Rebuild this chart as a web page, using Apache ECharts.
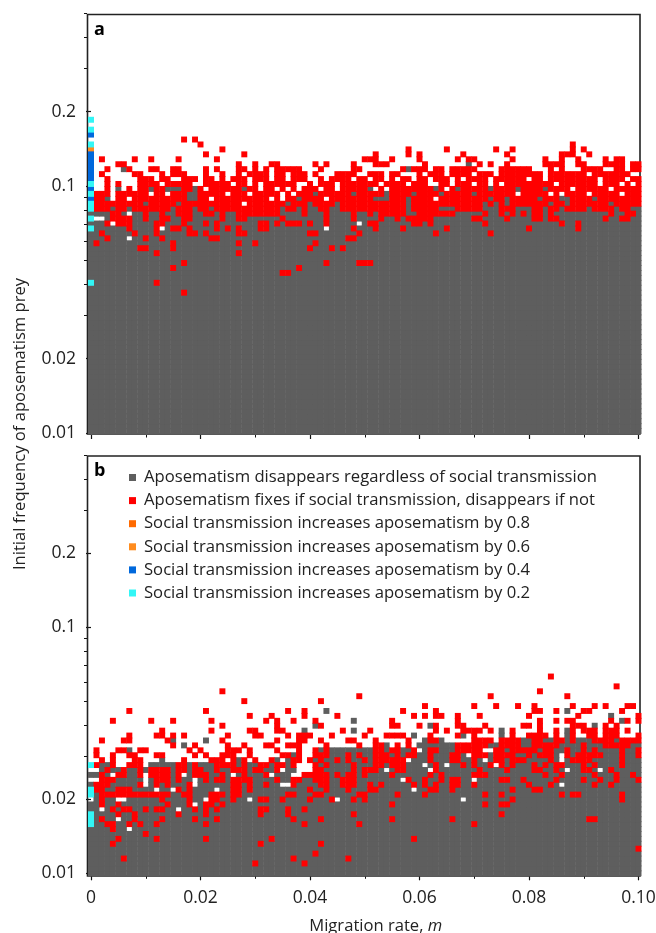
<!DOCTYPE html>
<html><head><meta charset="utf-8">
<style>html,body{margin:0;padding:0;background:#fff}#c{width:656px;height:933px}</style>
<script src="https://cdn.jsdelivr.net/npm/echarts@6/dist/echarts.min.js"></script>
</head><body><div id="c"></div>
<script>
const legendNames = [
  'Aposematism disappears regardless of social transmission',
  'Aposematism fixes if social transmission, disappears if not',
  'Social transmission increases aposematism by 0.8',
  'Social transmission increases aposematism by 0.6',
  'Social transmission increases aposematism by 0.4',
  'Social transmission increases aposematism by 0.2'
];
const legendColors = ['#5e5e5e','#ff0000','#ff6a00','#ff8c1e','#0068dc','#33f6f6'];
const xLabels = ['0','0.02','0.04','0.06','0.08','0.10'];
const yMajor = [0.01,0.02,0.1,0.2];
const yMinor = [0.03,0.04,0.05,0.06,0.07,0.08,0.09,0.3,0.4,0.5];

// Panel a: cell map, row 63 at the top down to row 29. g grey, r red, c cyan, b blue, o orange, . empty
const topRowA = 63;
const rowsA = [
"c.",
".",
"c.",
"b.",
".......... .......r.r .",
"c......... .......... r......... .......... .......... .......... .......... .......... ........r. .",
"o......... .......... ....r..... .......... .......... ........r. .....r.... ....r..r.. ........r. r.",
"b......... .......... .r......r. .......... .......... ..r.....r. r.......r. ......r... ......rrr. .r.",
"b.r.....r. .r....r... ...r...... .......... .......... rrr..r.... r......r.r r......r.. ...r..r..r ....r.rr.. .",
"b....rr... .......... .......r.. r..rr..... .r.r....r. ..rrr..... .r.......g .r.r..r... ...rrrr..r r...rrrr.r r",
"b..r..gr.. .rr..rr... .r.r...rr. r.r.rrrrr. ..r.....rr .......rgr rr.rr.rrrr r....rrrrr r...r.r... rrrr..rr.r r",
"b.r.....rr ...r.rrr.. .r..r..r.r rrr.rr.rrr .r...rrrr. .rrr.rr... r.rrr.rrrr .rrr.rrrrr rrr.rrrrrr r.rrrrrrr. .",
"b..r.....r rr.rr..rrr .rr.r.rrr. rrr.rr.rrr ..r.rrrr.r r.rr.r.rr. rr.rrr.r.r rrr.rrrrrr .rr.rrrrrr rrr.rrrr.r r",
"c..r.r...r rrr.rrrrr. .rrrrr.rr. r.rrrrrr.. r.rrr.rrrr rrr.rrrr.r rr..rr.rrr .rr.r.rrrr rrrrr.rrrr rrr.rrr.r. r",
"b..r.g.r.r rgrrgggrrg r.rrrrrrgr r.rr.r.r.r rr.rr.rrrr rg.r.rrrrr rrrgr.rgrr rrrgrrrrgr rrrgrrrr.r rrrrr.rrrr r",
"crrr.rrrrr r.rr.rrrgg rrrrr.rrr. rrrrr.r.rr rgrrrrrrgr rrrrgrrrrg rrrrgrrrrr grrrrrrr.r rrrr.r.rrr r.rrrrr.rr r",
"brrg.rr.rr rrrrrrrrgg rr.rrrrrrr rrr.r.rrgr rrr.rrrrrr rrgggrrrgr rrr.rrrrrr rrrgrrgrrr rrgrrrggrr rrgrrrrrrr r",
"crrrrrrrrr grrrrrgrrr rrrrrrrr.r rrrrrrgrrr grrrrgrrrr rrrrrrrrgr rrrrrrrrrr rrgrgrgrrr rrrrgrrgrr rrrrrgrrrr r",
"crrrgrrgrr rrrrrgrrrg rrgrrrrrrr rrrrrgrrgr ggrrggrrrr rrrrrrrrgr rrrrgggrrr rrgggrrrgg grrgrrgrrr rgrrrrgrrg g",
"ggggrrg.gg rggrggrrrg grrgrggrrr rrrrrggggr gggrggggrg grgrrrrrgg rrrrrrrggg ggrggrgrgr grrgrggggg gggggrggrr g",
"c..grrrrgg rggrrggrrg ggggrggrrg gggggrgggg gggrggggrg gggrggrgrr rrrggggggg rrggggrggg grrgrrgggg ggggrggrrg g",
"gggr.rrrgg ggrrgggrgg grgrgggggg grrgrgrrrg rggrggggg. grrggggggr rgrggggggg ggrggggggg ggggggrggr gggggggggg g",
"cggggggrgg ggr.grrgrg gggrgrgrgg grrggggggg ggg.ggggrg ggrggggrgg gggggrgggg gggggggggg rggggggggr gggggggggg g",
"ggrgggggrg ggrgggggrr grgggggrrg gggggggggg rrgggggggr gggggggggg gggrgggggg gggrgggggg g",
"gggrggg.gg rggrgggggg ggrrgggggg gggggggggg gggggggrrg g",
"grgggggggg gggggrgggg gggggggrgg rggggggggg grgggggggg g",
"gggggggggr rggggrgggg gggggggggg gggggggggg rgggrgrggg g",
"gggggggggg ggrggggggg gggggggrgg g",
"g",
"gggggggggg gggggggrgg gggggggggg gggggggggg gggrgggggr rrgggggggg g",
"gggggggggg gggggrgggg gggggggggg ggggggggrg g",
"gggggggggg gggggggggg gggggggggg gggggrrggg g",
"g",
"cggggggggg ggrggggggg g",
"g",
"gggggggggg gggggggrgg g"
];

// Panel b: grey top row per column, then listed exceptions. Each list: row, then columns.
const grayTopB = [
 21,22,22,22,21,21,21,21,21,20, 21,22,22,22,22,22,22,22,22,22,
 22,22,22,22,22,22,22,23,23,22, 22,22,22,22,23,23,24,24,21,20,
 20,24,25,24,25,25,25,25,25,25, 25,25,26,26,26,25,25,25,25,25,
 26,27,27,27,27,26,26,26,26,26, 27,26,27,26,26,28,27,27,27,27,
 28,28,28,27,27,27,27,28,27,27, 27,27,26,27,27,27,27,27,27,27, 28
];
const grayExtraB = [[33,43,87],[32,95],[31,48,97],[30,41,62,92],[29,39,48,75,87],[28,59,68],[27,15,21],[26,17],[25,7],[23,13]];
const whiteB = [[25,60,72,73],[24,33,34,69,86],[23,35,58,72,86],[22,38,39,40,61,65,74],[21,0,1,35,38,39,40,54,62,87,93],
 [20,4,10,17,26,33,37,38],[19,0,1,10,19,57,70],[18,10,19,35,36,86],[17,12,15,23,59],[15,0,5,6,21,29,45,68],[14,19],[13,2,16],[11,5],[9,7]];
const cyanB = [22,17,16,12,11,10];
const redB = [
 [40,84],[38,96],[37,24,82],[36,49,73,87],[35,28,42],[34,61,70,74,78,81,88,92,94,98,99],
 [33,7,21,36,39,57,63,81,82,85,90,91,97],
 [32,29,33,39,45,59,61,63,64,67,71,80,89,100],
 [31,4,11,15,22,32,34,37,41,55,67,82,85,87,88,95,98,100],
 [30,24,34,42,55,56,60,63,67,68,72,79,80,82,88,89,90,94,96],
 [29,13,22,29,30,34,35,46,51,63,65,68,69,70,71,73,77,82,85,88,90,91,92,94,95,96,98],
 [28,7,12,13,15,17,25,30,31,36,38,39,40,44,50,54,55,56,57,62,67,70,77,80,81,82,83,85,88,91,92,94,95,96,100],
 [27,2,6,7,14,24,34,38,39,42,47,48,52,58,62,63,70,71,72,73,75,76,77,78,81,82,85,86,88,92,93,94,95,97,98,99,100],
 [26,15,19,25,28,32,33,36,37,38,43,49,52,53,56,58,67,68,69,70,71,72,75,76,77,78,81,82,83,84,85,90,94,95,96,97,98],
 [25,1,5,6,9,10,18,20,25,26,27,29,34,38,41,43,52,53,55,56,59,62,63,67,68,69,70,71,74,75,77,78,79,80,81,83,84,87,90,92,97,100],
 [24,1,4,7,8,12,13,19,21,24,25,26,29,35,36,38,41,42,43,47,49,52,53,54,56,58,59,62,66,67,70,71,72,74,75,76,77,80,82,83,84,87,89,90,91,92,93,97,100],
 [23,2,4,8,9,17,22,23,24,26,28,30,33,37,38,40,42,45,47,50,52,53,54,55,56,57,62,66,67,70,74,75,77,78,79,84,88,89,90,91,97],
 [22,1,4,7,8,9,16,17,19,23,24,25,26,28,31,32,34,35,37,41,43,48,52,53,55,56,57,63,68,70,73,75,77,81,83,85,86,90,92,97],
 [21,3,6,9,11,12,13,14,16,17,19,20,23,26,27,28,30,31,34,41,42,48,50,51,52,56,57,63,71,76,81,82,85,90,91,95],
 [20,2,5,6,9,11,12,13,14,16,19,20,21,24,28,32,39,40,41,42,43,45,47,48,50,55,62,64,70,71,72,83,86,92,96,99],
 [19,2,3,4,12,13,14,16,21,23,24,26,27,28,29,34,37,38,41,42,43,46,47,48,58,61,64,66,67,75,76,79,85,90,93,96,100],
 [18,1,2,3,9,12,14,18,26,27,29,32,37,42,43,46,47,48,51,53,59,61,63,66,67,70,80,84,92,95],
 [17,1,2,5,6,7,16,18,26,27,29,40,43,47,51,52,62,63,66,77,81,82],
 [16,2,3,4,5,6,7,8,9,10,11,12,13,14,17,18,22,23,24,26,27,36,37,41,42,49,50,56,61,72,75,86,88,89,97],
 [15,2,13,18,22,23,26,31,32,35,40,44,48,50,77,97],
 [14,2,5,14,18,21,22,24,55,72,75,76],
 [13,4,6,7,10,12,13,19,21,23,31,32,36,39],
 [12,5,8,16,21,31,36,48,75],
 [11,2,8,13,19,23,37,42,55,66,91,92],
 [10,3,4,7,9,12,21,39,49,70],
 [9,4],[8,10],[7,5,12,21,33,59],[6,4,31,42],[5,100],[4,41],[3,6,37,47],[2,30,39]
];

const COLS = 101, ROWS = 85, STEP = 1/50;
const freq = (k, off) => 0.01 * Math.pow(10, (k + off) * STEP);
const typeIdx = {g:0, r:1, o:3, b:4, c:5};

function cellsA() {
  const out = [[],[],[],[],[],[]];
  for (let k = 0; k < ROWS; k++) {
    let s = '';
    if (k > topRowA) continue;
    const i = topRowA - k;
    if (i < rowsA.length) {
      s = rowsA[i].replace(/ /g,'');
      s = s.padEnd(COLS, s[s.length-1]);
    } else s = 'g'.repeat(COLS);
    for (let c = 0; c < COLS; c++) {
      const t = typeIdx[s[c]];
      if (t !== undefined) out[t].push([c/1000, freq(k, 0.4)]);
    }
  }
  return out;
}
function cellsB() {
  const out = [[],[],[],[],[],[]];
  const grid = [];
  for (let k = 0; k < ROWS; k++) {
    grid.push([]);
    for (let c = 0; c < COLS; c++) grid[k].push(k <= grayTopB[c] ? 'g' : '.');
  }
  grayExtraB.forEach(r => r.slice(1).forEach(c => grid[r[0]][c] = 'g'));
  whiteB.forEach(r => r.slice(1).forEach(c => grid[r[0]][c] = '.'));
  redB.forEach(r => r.slice(1).forEach(c => grid[r[0]][c] = 'r'));
  cyanB.forEach(k => grid[k][0] = 'c');
  for (let k = 0; k < ROWS; k++) for (let c = 0; c < COLS; c++) {
    const t = typeIdx[grid[k][c]];
    if (t !== undefined) out[t].push([c/1000, freq(k, 0)]);
  }
  return out;
}

function renderCell(params, api) {
  const m = api.value(0), f = api.value(1);
  const half = Math.pow(10, STEP/2);
  const p0 = api.coord([m - 0.0005, f * half]);
  const p1 = api.coord([m + 0.0005, f / half]);
  return {type:'rect', shape:{x:p0[0]-0.25, y:p0[1]-0.5, width:p1[0]-p0[0]+0.5, height:p1[1]-p0[1]+1},
    style:{fill:api.visual('color')}, silent:true};
}
const dataA = cellsA(), dataB = cellsB();
const series = [];
[dataA, dataB].forEach((d, p) => {
  legendNames.forEach((name, i) => {
    series.push({type:'custom', name, coordinateSystem:'cartesian2d', xAxisIndex:p, yAxisIndex:p*2,
      renderItem:renderCell, data:d[i], itemStyle:{color:legendColors[i]}, animation:false, z:2+(i?1:0),
      encode:{x:0,y:1}, progressive:0, silent:true});
  });
});

const FONT = 'Open Sans';
const TXT = '#222';
const grids = [
  {left:91, top:13.3, width:547.5, height:419.7, outerBoundsMode:'none'},
  {left:91, top:455.4, width:547.5, height:417.9, outerBoundsMode:'none'}
];
function xAxis(g, labels, off) {
  return {type:'value', gridIndex:g, min:0, max:0.1, interval:0.02, position:'bottom', offset:off,
    axisLine:{show:false}, splitLine:{show:false},
    axisTick:{show:true, length:4, lineStyle:{color:'#111', width:1.2}},
    minorTick:{show:true, splitNumber:2, length:2.5, lineStyle:{color:'#111', width:1}},
    axisLabel:{show:labels, margin:13, fontFamily:FONT, fontSize:17.5, color:TXT,
      formatter:(v)=> xLabels[Math.round(v/0.02)]},
    name: labels ? 'Migration rate, {i|m}' : '', nameLocation:'middle', nameGap:41,
    nameTextStyle:{fontFamily:FONT, fontSize:16.6, color:TXT, padding:[0,0,0,22],
      rich:{i:{fontStyle:'italic', fontFamily:FONT, fontSize:16.6, color:TXT}}}};
}
function yAxes(g) {
  const base = {type:'log', logBase:10, gridIndex:g, min:0.01, max:0.5, position:'left', offset:4,
    axisLine:{show:false}, splitLine:{show:false}, minorTick:{show:false}, minorSplitLine:{show:false}};
  return [
    Object.assign({}, base, {
      axisTick:{show:true, length:5, customValues:yMajor, lineStyle:{color:'#111', width:1.2}},
      axisLabel:{show:true, margin:11, customValues:yMajor, fontFamily:FONT, fontSize:17.5, color:TXT, formatter:(v)=>String(v)}
    }),
    Object.assign({}, base, {
      axisTick:{show:true, length:3, customValues:yMinor, lineStyle:{color:'#111', width:1}},
      axisLabel:{show:false}
    })
  ];
}
const frame = (y0, y1) => ({type:'rect', z:1, silent:true, shape:{x:87.5, y:y0, width:552.5, height:y1-y0},
  style:{fill:'none', stroke:'#222', lineWidth:1.6}});
const option = {
  animation:false,
  backgroundColor:'#fff',
  grid:grids,
  xAxis:[xAxis(0,false,2), xAxis(1,true,3)],
  yAxis:[...yAxes(0), ...yAxes(1)],
  legend:{show:true, orient:'vertical', left:124, top:463, itemWidth:7, itemHeight:7, itemGap:4.1,
    icon:'rect', selectedMode:false, padding:5, data:legendNames.map(n=>({name:n})),
    textStyle:{fontFamily:FONT, fontSize:16.65, color:TXT, padding:[0,0,0,3], lineHeight:19}},
  graphic:[
    frame(14.5,434), frame(456,876),
    {type:'text', z:10, left:94, top:21, style:{text:'a', font:'bold 18px "Open Sans"', fill:'#000'}},
    {type:'text', z:10, left:94, top:462, style:{text:'b', font:'bold 18px "Open Sans"', fill:'#000'}},
    {type:'text', z:10, x:20, y:424, rotation:Math.PI/2, silent:true,
      style:{text:'Initial frequency of aposematism prey', font:'16.6px "Open Sans"', fill:TXT, align:'center', verticalAlign:'middle'}}
  ],
  series
};
const chart = echarts.init(document.getElementById('c'), null, {renderer:'canvas'});
chart.setOption(option);
</script></body></html>
